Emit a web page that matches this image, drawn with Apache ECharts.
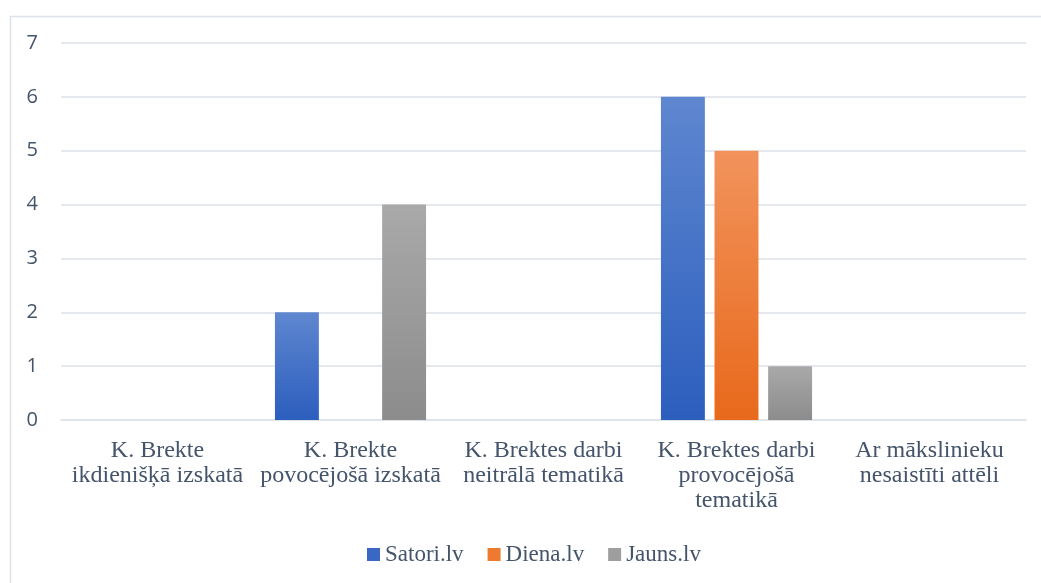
<!DOCTYPE html>
<html><head><meta charset="utf-8">
<script src="https://cdn.jsdelivr.net/npm/echarts@6/dist/echarts.min.js"></script>
<style>html,body{margin:0;padding:0;background:#fff}#c{width:1041px;height:583px}</style>
</head><body><div id="c"></div>
<script>
var categories = ['K. Brekte\nikdienišķā izskatā', 'K. Brekte\npovocējošā izskatā', 'K. Brektes darbi\nneitrālā tematikā', 'K. Brektes darbi\nprovocējošā\ntematikā', 'Ar mākslinieku\nnesaistīti attēli'];
var seriesNames = ['Satori.lv', 'Diena.lv', 'Jauns.lv'];
var satori = [0, 2, 0, 6, 0];
var diena = [0, 0, 0, 5, 0];
var jauns = [0, 4, 0, 1, 0];
var yTicks = [0, 1, 2, 3, 4, 5, 6, 7];

var SERIF = '"Liberation Serif", "DejaVu Serif", serif';
function grad(top, bottom) {
  return new echarts.graphic.LinearGradient(0, 0, 0, 1, [{offset: 0, color: top}, {offset: 1, color: bottom}]);
}
var colors = [grad('#5F87D0', '#2C5EBE'), grad('#F2935C', '#E8691B'), grad('#A9A9A9', '#8C8C8C')];
var legendColors = ['#3A67C4', '#EE7A30', '#9E9E9E'];
var values = [satori, diena, jauns];

var chart = echarts.init(document.getElementById('c'));
chart.setOption({
  animation: false,
  graphic: [{type: 'rect', left: 8, top: 14, shape: {width: 1045, height: 575}, style: {fill: 'none', stroke: '#DDE2E8', lineWidth: 1.5}, silent: true}],
  grid: {left: 61, right: 15, top: 43, bottom: 163, containLabel: false},
  legend: {
    bottom: 17, left: 367, padding: 0, itemWidth: 13, itemHeight: 13, itemGap: 24,
    icon: 'rect',
    textStyle: {fontFamily: SERIF, fontSize: 23, color: '#44546A'},
    data: seriesNames.map(function (n, i) { return {name: n, itemStyle: {color: legendColors[i]}}; })
  },
  xAxis: {
    type: 'category', data: categories,
    axisLine: {show: true, lineStyle: {color: '#DDE2E8', width: 1.5}},
    axisTick: {show: false},
    axisLabel: {fontFamily: SERIF, fontSize: 24, color: '#44546A', margin: 18, lineHeight: 25, interval: 0}
  },
  yAxis: {
    type: 'value', min: 0, max: 7, interval: 1,
    axisLine: {show: false}, axisTick: {show: false},
    splitLine: {lineStyle: {color: '#DDE2E8', width: 1.5}},
    axisLabel: {fontFamily: '"Open Sans", sans-serif', fontSize: 20, color: '#44546A', margin: 23,
      formatter: function (v) { return yTicks.indexOf(v) >= 0 ? String(v) : ''; }}
  },
  series: seriesNames.map(function (n, i) {
    return {name: n, type: 'bar', data: values[i], barGap: '22%', barCategoryGap: '21.7%', itemStyle: {color: colors[i]}};
  })
});
</script></body></html>
